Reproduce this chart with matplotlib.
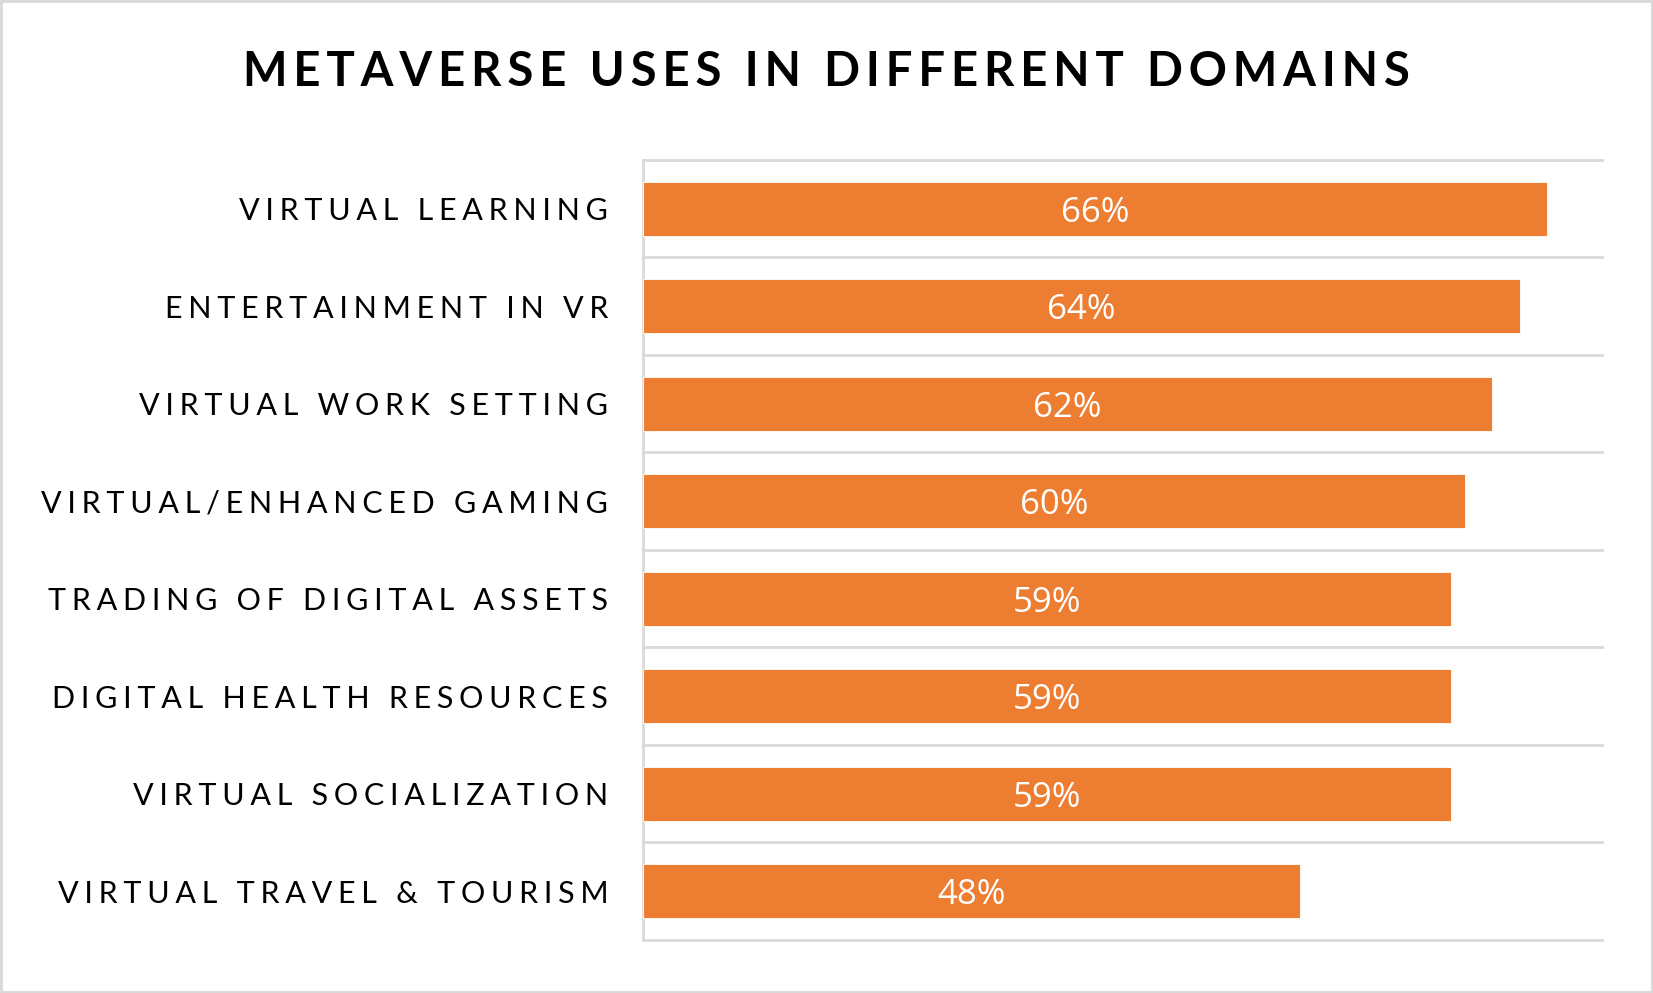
import matplotlib
matplotlib.use("Agg")
import matplotlib.pyplot as plt
from matplotlib.patches import Rectangle

categories = [
    "VIRTUAL LEARNING",
    "ENTERTAINMENT IN VR",
    "VIRTUAL WORK SETTING",
    "VIRTUAL/ENHANCED GAMING",
    "TRADING OF DIGITAL ASSETS",
    "DIGITAL HEALTH RESOURCES",
    "VIRTUAL SOCIALIZATION",
    "VIRTUAL TRAVEL & TOURISM",
]
values = [0.66, 0.64, 0.62, 0.60, 0.59, 0.59, 0.59, 0.48]
title = "METAVERSE USES IN DIFFERENT DOMAINS"

BAR = "#ED7D31"
GRID = "#D9D9D9"


def spaced(s, sep):
    return sep.join(s)


fig = plt.figure(figsize=(16.53, 9.93), dpi=100)
fig.patch.set_facecolor("white")
fig.add_artist(Rectangle((0, 0), 1, 1, transform=fig.transFigure, fill=False,
                         edgecolor=GRID, lw=3.5, clip_on=False))

ax = fig.add_axes([0.389, 0.0534, 0.58, 0.7855])
y = list(range(len(categories)))
bars = ax.barh(y, values, height=0.55, color=BAR, edgecolor="white", lw=0.6, zorder=3)
ax.set_xlim(0, 0.70)
ax.set_ylim(len(categories) - 0.5, -0.5)

for b, v in zip(bars, values):
    ax.text(b.get_x() + b.get_width() / 2, b.get_y() + b.get_height() / 2,
            f"{v*100:.0f}%", ha="center", va="center_baseline", color="white",
            fontsize=25, family=["Open Sans", "DejaVu Sans"], zorder=4)

ax.set_yticks(y)
ax.set_yticklabels([spaced(c, "\u2009\u200a") for c in categories])
for t in ax.get_yticklabels():
    t.set_fontfamily(["Lato", "DejaVu Sans"])
    t.set_fontsize(22)
    t.set_color("black")
ax.tick_params(axis="y", length=0, pad=25)
ax.set_xticks([])

for s in ["top", "right", "bottom"]:
    ax.spines[s].set_visible(False)
ax.spines["left"].set_color(GRID)
ax.spines["left"].set_linewidth(2)

for k in range(len(categories) + 1):
    ax.axhline(k - 0.5, color=GRID, lw=2, zorder=1, clip_on=False)

fig.text(0.5, 0.927, spaced(title, "\u2009"), ha="center", va="center", fontsize=34,
         fontweight="bold", family=["Lato", "DejaVu Sans"], color="black")

fig.savefig("out.png", dpi=100, facecolor="white")
